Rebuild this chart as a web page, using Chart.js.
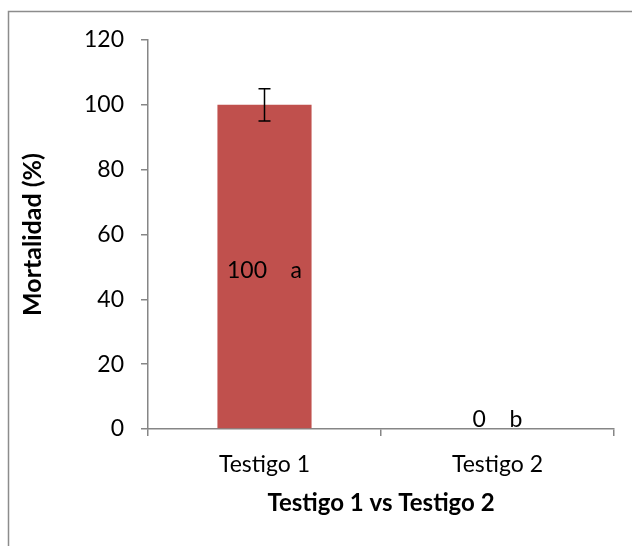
<!DOCTYPE html>
<html>
<head>
<meta charset="utf-8">
<script src="https://cdn.jsdelivr.net/npm/chart.js@4.4.1/dist/chart.umd.min.js"></script>
<style>
  html, body { margin: 0; padding: 0; background: #fff; }
  #wrap { width: 632px; height: 546px; position: relative; }
</style>
</head>
<body>
<div id="wrap"><canvas id="mortalityChart" width="632" height="546"></canvas></div>
<script>
const categories = ['Testigo 1', 'Testigo 2'];
const mortality = [100, 0];
const errors = [5, 0];
const letters = ['a', 'b'];
const yTicks = [0, 20, 40, 60, 80, 100, 120];

const FONT = 'Lato, "Open Sans", sans-serif';
const AXIS_GREY = '#868686';

// frame around the chart (only top and left edges show in the picture)
const framePlugin = {
    id: 'frame',
    beforeDraw(chart) {
        const ctx = chart.ctx;
        ctx.save();
        ctx.strokeStyle = '#8c8c8c';
        ctx.lineWidth = 1.5;
        ctx.strokeRect(8.5, 11.5, 800, 800);
        ctx.restore();
    }
};

const errorBarPlugin = {
    id: 'errorBars',
    afterDatasetsDraw(chart) {
        const ctx = chart.ctx;
        const meta = chart.getDatasetMeta(0);
        const y = chart.scales.y;
        ctx.save();
        ctx.strokeStyle = '#000';
        ctx.lineWidth = 1.5;
        meta.data.forEach((bar, i) => {
            if (!errors[i]) return;
            const top = y.getPixelForValue(mortality[i] + errors[i]);
            const bottom = y.getPixelForValue(mortality[i] - errors[i]);
            ctx.beginPath();
            ctx.moveTo(bar.x, top);
            ctx.lineTo(bar.x, bottom);
            ctx.moveTo(bar.x - 6, top);
            ctx.lineTo(bar.x + 6, top);
            ctx.moveTo(bar.x - 6, bottom);
            ctx.lineTo(bar.x + 6, bottom);
            ctx.stroke();
        });
        ctx.restore();
    }
};

const labelPlugin = {
    id: 'valueLabels',
    afterDatasetsDraw(chart) {
        const ctx = chart.ctx;
        const meta = chart.getDatasetMeta(0);
        ctx.save();
        ctx.fillStyle = '#000';
        ctx.font = '23px ' + FONT;
        ctx.textAlign = 'center';
        ctx.textBaseline = 'middle';
        meta.data.forEach((bar, i) => {
            const text = mortality[i] + '    ' + letters[i];
            let yPos = (bar.y + bar.base) / 2 + 4;
            if (mortality[i] === 0) yPos = bar.base - 9;
            ctx.fillText(text, bar.x, yPos);
        });
        ctx.restore();
    }
};

new Chart(document.getElementById('mortalityChart'), {
    type: 'bar',
    data: {
        labels: categories,
        datasets: [{
            data: mortality,
            backgroundColor: '#C0504D',
            borderWidth: 0,
            barPercentage: 0.8,
            categoryPercentage: 0.505
        }]
    },
    options: {
        responsive: false,
        animation: false,
        layout: { padding: { left: 0, top: 40, right: 18, bottom: 0 } },
        plugins: {
            legend: { display: false },
            tooltip: { enabled: false }
        },
        scales: {
            x: {
                grid: { drawOnChartArea: false, color: AXIS_GREY, tickLength: 7, lineWidth: 1.5 },
                border: { color: AXIS_GREY, width: 1.5 },
                ticks: { color: '#000', font: { family: FONT, size: 23 }, padding: 15 },
                title: {
                    display: true,
                    text: 'Testigo 1 vs Testigo 2',
                    color: '#000',
                    font: { family: FONT, size: 24, weight: 'bold' },
                    padding: { bottom: 28 }
                },
                afterFit(scale) { scale.height = 117; }
            },
            y: {
                min: 0,
                max: 120,
                afterBuildTicks(scale) { scale.ticks = yTicks.map(v => ({ value: v })); },
                grid: { drawOnChartArea: false, color: AXIS_GREY, tickLength: 7, lineWidth: 1.5 },
                border: { color: AXIS_GREY, width: 1.5 },
                ticks: { color: '#000', font: { family: FONT, size: 23 }, padding: 17 },
                title: {
                    display: true,
                    text: 'Mortalidad (%)',
                    color: '#000',
                    font: { family: FONT, size: 25, weight: 'bold' },
                    padding: { top: 18 }
                },
                afterFit(scale) { scale.width = 148; }
            }
        }
    },
    plugins: [framePlugin, errorBarPlugin, labelPlugin]
});
</script>
</body>
</html>
